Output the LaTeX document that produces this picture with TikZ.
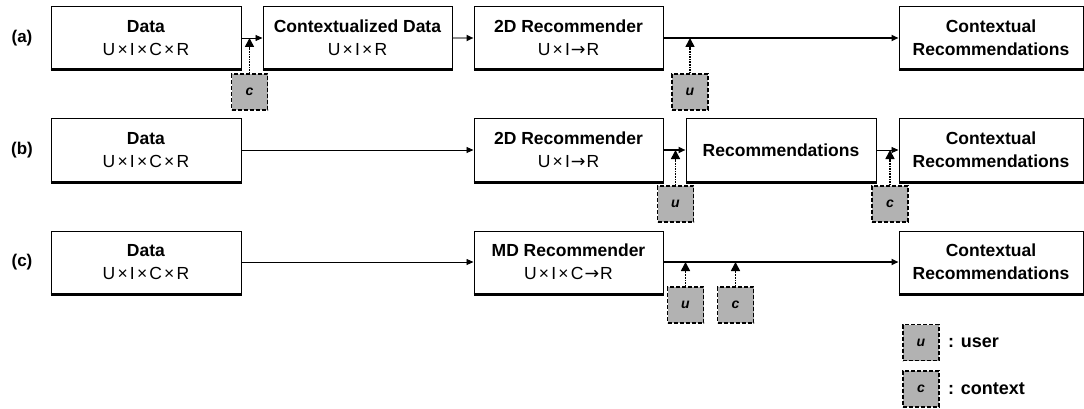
\documentclass[tikz,border=0pt]{standalone}
\usepackage{fontspec}
\setmainfont{Liberation Sans}
\newfontfamily\arrfont{DejaVu Sans}
\usetikzlibrary{arrows.meta}
\newcommand{\tx}{\kern2.2pt×\kern2.2pt}
\newcommand{\ta}{\kern1pt{\arrfont →}\kern1pt}
\tikzset{
 bigbox/.style={draw=black, line width=1pt, minimum width=190pt, minimum height=62pt, align=center, inner sep=0pt, font=\fontsize{17.5}{23}\selectfont},
 smallbox/.style={draw=black, dash pattern=on 4pt off 2pt, fill=black!30, line width=1.2pt, minimum width=36pt, minimum height=36pt, inner sep=0pt, font=\fontsize{14}{14}\selectfont\bfseries\itshape},
 thinarrow/.style={line width=0.8pt, -{Triangle[length=7pt,width=6pt]}},
 grayarrow/.style={line width=2pt, draw=black!45, -{Triangle[length=7pt,width=6pt,color=black,fill=black]}},
 thickarrow/.style={line width=2pt, -{Triangle[length=7pt,width=6pt]}},
 dotarrow/.style={line width=1.6pt, densely dotted, -{Triangle[length=9pt,width=9pt]}},
 rowlbl/.style={font=\fontsize{17}{17}\selectfont\bfseries},
 legtext/.style={anchor=west, inner sep=0pt, font=\fontsize{18}{18}\selectfont\bfseries},
 bottomedge/.style={line width=2.5pt},
}
\begin{document}
\begin{tikzpicture}[x=1pt,y=-1pt]
\useasboundingbox (0,0) rectangle (1084,409);
% row labels
\node[rowlbl] (la) at (22,38) {(a)};
\node[rowlbl] (lb) at (22,150) {(b)};
\node[rowlbl] (lc) at (22,262) {(c)};
% row (a)
\node[bigbox] (dataA) at (146,38) {\textbf{Data}\\U\tx I\tx C\tx R};
\node[bigbox, minimum width=189pt] (cdA) at (357.5,38) {\textbf{Contextualized Data}\\U\tx I\tx R};
\node[bigbox, minimum width=189pt] (recA) at (568.5,38) {\textbf{2D Recommender}\\U\tx I\ta R};
\node[bigbox, minimum width=184pt] (ctxA) at (991,38) {\textbf{Contextual}\\\textbf{Recommendations}};
\node[smallbox] (cA) at (249.5,92) {c};
\node[smallbox] (uA) at (690,92) {u};
% row (b)
\node[bigbox] (dataB) at (146,150) {\textbf{Data}\\U\tx I\tx C\tx R};
\node[bigbox, minimum width=189pt] (recB) at (568.5,150) {\textbf{2D Recommender}\\U\tx I\ta R};
\node[bigbox] (recsB) at (781,150) {\textbf{Recommendations}};
\node[bigbox, minimum width=184pt] (ctxB) at (991,150) {\textbf{Contextual}\\\textbf{Recommendations}};
\node[smallbox] (uB) at (675.5,204) {u};
\node[smallbox] (cB) at (890,204) {c};
% row (c)
\node[bigbox] (dataC) at (146,262) {\textbf{Data}\\U\tx I\tx C\tx R};
\node[bigbox, minimum width=189pt] (mdC) at (568.5,262) {\textbf{MD Recommender}\\U\tx I\tx C\ta R};
\node[bigbox, minimum width=184pt] (ctxC) at (991,262) {\textbf{Contextual}\\\textbf{Recommendations}};
\node[smallbox] (uC) at (685.5,305) {u};
\node[smallbox] (cC) at (735.5,305) {c};
% legend
\node[smallbox] (uL) at (921,342.5) {u};
\node[smallbox] (cL) at (921,389) {c};
\node[legtext] (uLt) at (948,342.5) {: user};
\node[legtext] (cLt) at (948,389) {: context};
% bottom shadow edges
\foreach \n in {dataA,cdA,recA,ctxA,dataB,recB,recsB,ctxB,dataC,mdC,ctxC}
  \draw[bottomedge] ([yshift=-0.75pt]\n.south west) -- ([yshift=-0.75pt]\n.south east);
% connectors row (a)
\draw[thinarrow] (dataA) -- (cdA);
\draw[grayarrow] (cdA) -- (recA);
\draw[thickarrow] (recA) -- (ctxA);
\draw[dotarrow] (cA.north) -- (cA.north |- dataA.east);
\draw[dotarrow] (uA.north) -- (uA.north |- recA.east);
% row (b)
\draw[thinarrow] (dataB) -- (recB);
\draw[thickarrow] (recB) -- (recsB);
\draw[thinarrow] (recsB) -- (ctxB);
\draw[dotarrow] (uB.north) -- (uB.north |- recB.east);
\draw[dotarrow] (cB.north) -- (cB.north |- recsB.east);
% row (c)
\draw[thinarrow] (dataC) -- (mdC);
\draw[thickarrow] (mdC) -- (ctxC);
\draw[dotarrow] (uC.north) -- (uC.north |- mdC.east);
\draw[dotarrow] (cC.north) -- (cC.north |- mdC.east);
\end{tikzpicture}
\end{document}
